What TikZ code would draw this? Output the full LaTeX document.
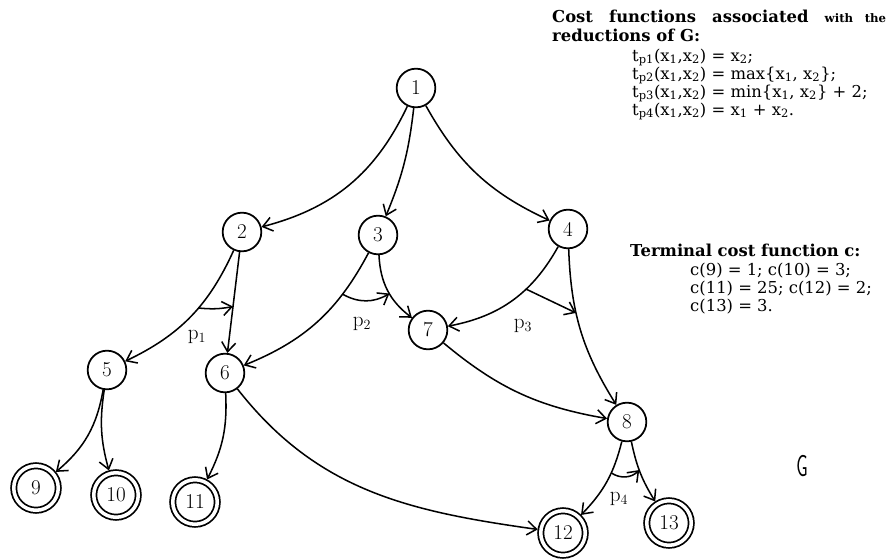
\documentclass[tikz,border=0pt]{standalone}
\usepackage{fontspec}
\newfontfamily\headfont{DejaVu Serif}
\usetikzlibrary{arrows.meta}
\newcommand{\idx}[1]{\textsubscript{#1}}

\begin{document}
\begin{tikzpicture}[x=0.03cm, y=-0.03cm, >={Straight Barb[length=8pt,width=12pt]},
  state/.style={circle, draw, line width=1.5pt, minimum size=33pt, inner sep=0pt, font=\fontsize{18}{20}\selectfont},
  final/.style={state, double, double distance=3pt, minimum size=38pt, outer sep=2.8pt},
  edge/.style={->, line width=1.3pt},
  head/.style={font=\headfont\bfseries\fontsize{14}{16}\selectfont, inner sep=0pt, anchor=base west},
  form/.style={font=\headfont\fontsize{14}{16}\selectfont, inner sep=0pt, anchor=base west},
  plab/.style={font=\fontsize{18}{20}\selectfont, inner sep=0pt}]
\useasboundingbox (0,0) rectangle (888,559);

\node[state] (n1) at (416,88) {1};
\node[state] (n2) at (242,232) {2};
\node[state] (n3) at (378,235) {3};
\node[state] (n4) at (568,229) {4};
\node[state] (n5) at (107,370) {5};
\node[state] (n6) at (225,373) {6};
\node[state] (n7) at (428,330) {7};
\node[state] (n8) at (627,422) {8};
\node[final] (n9) at (36,488) {9};
\node[final] (n10) at (116,495) {10};
\node[final] (n11) at (195,502) {11};
\node[final] (n12) at (563,533) {12};
\node[final] (n13) at (669,523) {13};

\draw[edge] (n1) to[bend left=25] (n2);
\draw[edge] (n1) to[bend left=8] (n3);
\draw[edge] (n1) to[bend right=18] (n4);
\draw[edge] (n2) to[bend left=20] node[coordinate, pos=0.42] (p1a) {} (n5);
\draw[edge] (n2) to node[coordinate, pos=0.54] (p1b) {} (n6);
\draw[edge] (n3) to[bend left=20] node[coordinate, pos=0.27] (p2a) {} (n6);
\draw[edge] (n3) to[bend right=25] node[coordinate, pos=0.55] (p2b) {} (n7);
\draw[edge] (n4) to[bend left=25] node[coordinate, pos=0.37] (p3a) {} (n7);
\draw[edge] (n4) to[bend right=15] node[coordinate, pos=0.38] (p3b) {} (n8);
\draw[edge] (n7) to[bend right=15] (n8);
\draw[edge] (n5) to[bend left=20] (n9);
\draw[edge] (n5) to[bend right=12] (n10);
\draw[edge] (n6) to[bend left=15] (n11);
\draw[edge] (n6) to[out=-52, in=172] (n12);
\draw[edge] (n8) to[bend left=15] node[coordinate, pos=0.38] (p4a) {} (n12);
\draw[edge] (n8) to[bend right=10] node[coordinate, pos=0.45] (p4b) {} (n13);

\draw[edge] (p1a) to[bend right=8] (p1b);
\draw[edge] (p2a) to[bend right=30] (p2b);
\draw[edge] (p3a) to (p3b);
\draw[edge] (p4a) to[bend right=40] (p4b);

\node[plab] (lp1) at (197,337) {$\mathrm{p}_1$};
\node[plab] (lp2) at (362,324) {$\mathrm{p}_2$};
\node[plab] (lp3) at (523,326) {$\mathrm{p}_3$};
\node[plab] (lp4) at (619,499) {$\mathrm{p}_4$};

\node[head] (hd1) at (552,22) {\makebox[285pt][s]{Cost functions associated {\fontsize{10}{12}\selectfont with the}}};
\node[head] (hd2) at (552,41) {reductions of G:};
\node[form] (f1) at (632,61) {t\idx{p1}(x\idx{1},x\idx{2}) = x\idx{2};};
\node[form] (f2) at (632,79) {t\idx{p2}(x\idx{1},x\idx{2}) = max\{x\idx{1}, x\idx{2}\};};
\node[form] (f3) at (632,97) {t\idx{p3}(x\idx{1},x\idx{2}) = min\{x\idx{1}, x\idx{2}\} + 2;};
\node[form] (f4) at (632,115) {t\idx{p4}(x\idx{1},x\idx{2}) = x\idx{1} + x\idx{2}.};

\node[head] (hd3) at (630,256) {Terminal cost function c:};
\node[form] (c1) at (690,275) {c(9) = 1; c(10) = 3;};
\node[form] (c2) at (690,293) {c(11) = 25; c(12) = 2;};
\node[form] (c3) at (690,311) {c(13) = 3.};

\node[font=\sffamily\fontsize{26}{28}\selectfont] (gname) at (802,466) {\scalebox{0.6}[1]{G}};
\end{tikzpicture}
\end{document}
